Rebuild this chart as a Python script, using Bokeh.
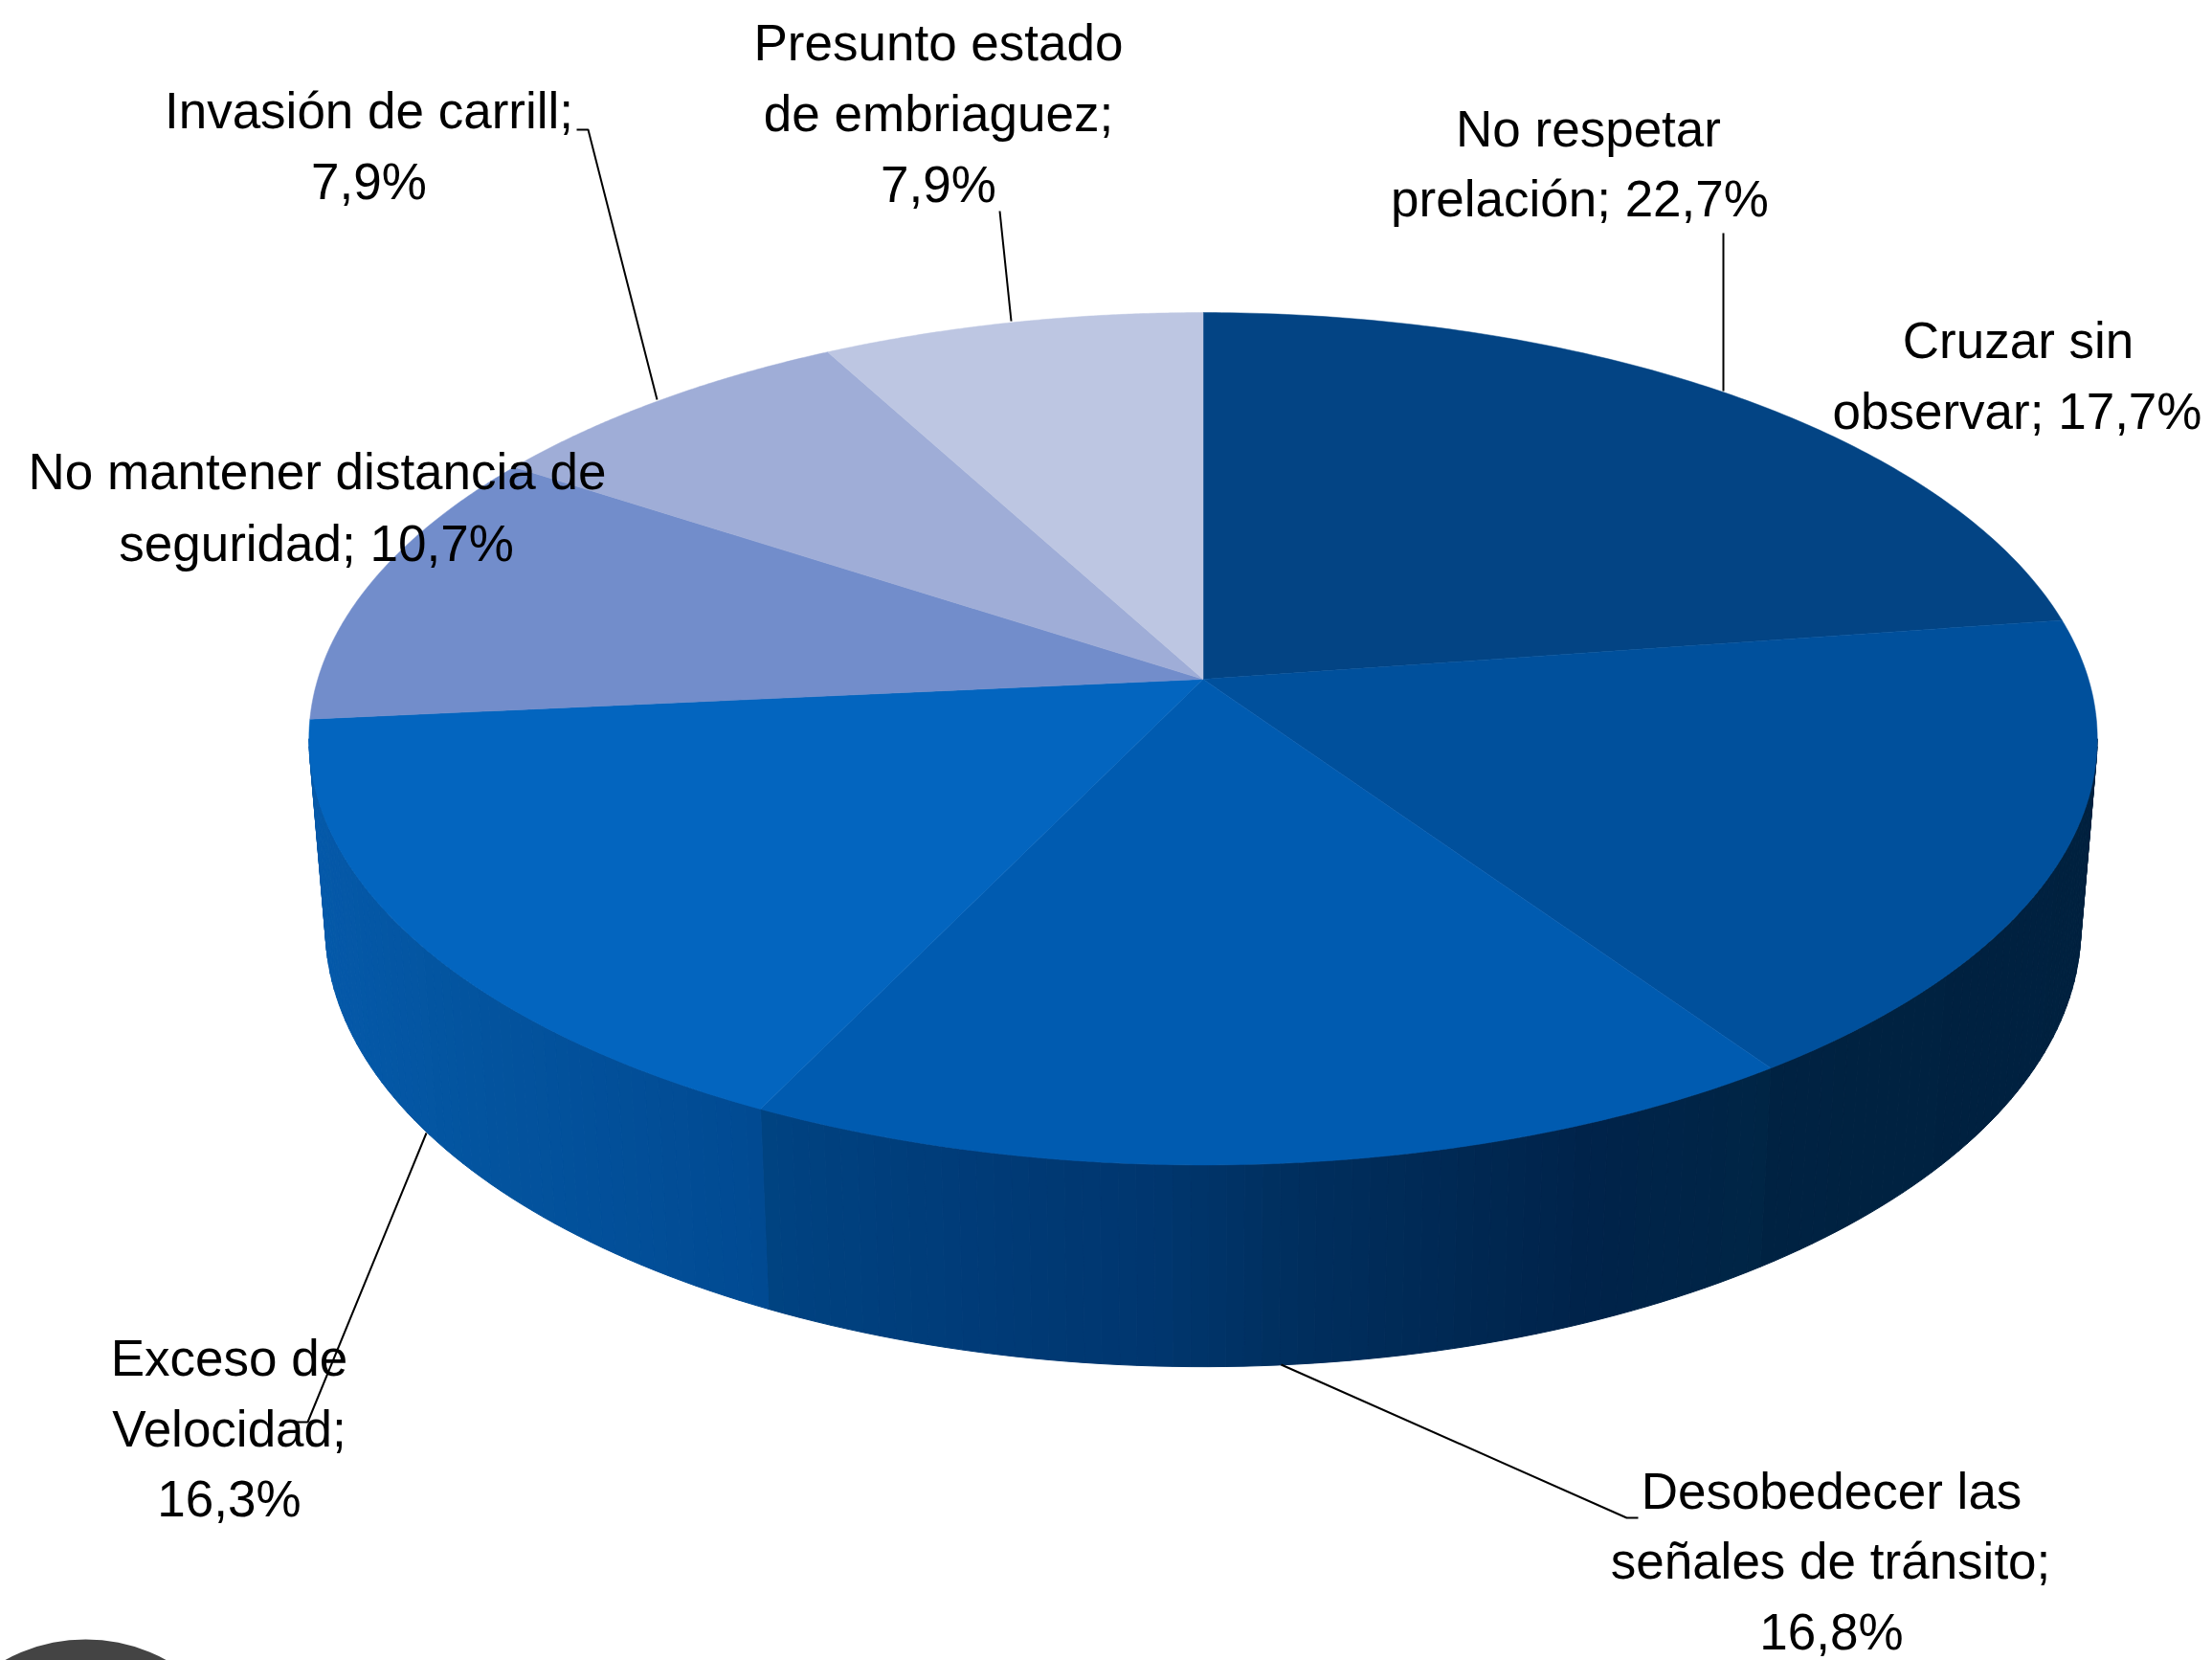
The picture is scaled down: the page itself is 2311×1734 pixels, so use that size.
from bokeh.plotting import figure
from bokeh.embed import file_html
from bokeh.resources import INLINE
from bokeh.models import Range1d
from bokeh.core.properties import value
import numpy as np

# ---- data ----
categories = ["No respetar prelación", "Cruzar sin observar", "Desobedecer las señales de tránsito",
              "Exceso de Velocidad", "No mantener distancia de seguridad", "Invasión de carrill",
              "Presunto estado de embriaguez"]
shares = [22.7, 17.7, 16.8, 16.3, 10.7, 7.9, 7.9]
top_colors = ["#034484", "#00509C", "#005BB0", "#0365BF", "#728DCB", "#9FADD7", "#BDC6E2"]

# ---- labels (one entry per printed line) ----
label_lines = [
    ("No respetar", 1659, 134), ("prelación; 22,7%", 1650, 207),
    ("Cruzar sin", 2108, 355), ("observar; 17,7%", 2107, 429),
    ("Desobedecer las", 1913, 1557), ("señales de tránsito;", 1912, 1630), ("16,8%", 1913, 1704),
    ("Exceso de", 239, 1418), ("Velocidad;", 239, 1492), ("16,3%", 239, 1565),
    ("No mantener distancia de", 331, 492), ("seguridad; 10,7%", 330, 567),
    ("Invasión de carrill;", 385, 115), ("7,9%", 385, 189),
    ("Presunto estado", 980, 44), ("de embriaguez;", 980, 118), ("7,9%", 980, 192),
]
leaders = [
    ([1800, 1800], [243, 408]),
    ([1044, 1056], [220, 335]),
    ([602, 614, 686], [135, 135, 417]),
    ([445, 321, 308], [1183, 1485, 1485]),
    ([1338, 1699, 1711], [1425, 1585, 1585]),
]

# side-wall shading: screen x -> colour, for the three visible walls
wall_stops = {
    1: ([1845, 2190], ["#002242", "#00213F"]),
    2: ([799, 993, 1213, 1338, 1654, 1845], ["#004382", "#003C79", "#00366E", "#002F5F", "#00234A", "#002545"]),
    3: ([343, 500, 650, 799], ["#0559A9", "#03549F", "#024F99", "#014A92"]),
}

# ---- projection of the tilted pie ----
CX, APEX_Y, K = 1256.5, 709.0, 0.1398
TOP_A, TOP_B = 925.0, 436.5
BOT_A, BOT_B, BOT_Y = 908.0, 450.0, 904.0


def project(theta, a, b, cy):
    w = 1 + K * np.cos(theta)
    return CX + a * np.sin(theta) / w, cy - b * np.cos(theta) / w


def hex_rgb(c):
    return np.array([int(c[i:i + 2], 16) for i in (1, 3, 5)], dtype=float)


def wall_color(i, x):
    xs, cs = wall_stops[i]
    rgb = np.array([hex_rgb(c) for c in cs])
    r = [int(round(np.interp(x, xs, rgb[:, j]))) for j in range(3)]
    return "#%02x%02x%02x" % tuple(r)


edges = np.radians(np.concatenate([[0], np.cumsum(shares)]) * 3.6)
T_MIN, T_MAX = np.arccos(-K), 2 * np.pi - np.arccos(-K)

p = figure(width=2311, height=1734, x_range=Range1d(0, 2311), y_range=Range1d(1734, 0),
           toolbar_location=None, output_backend="svg", min_border=0)
p.axis.visible = False
p.grid.visible = False
p.outline_line_color = None
p.background_fill_color = "white"

# walls
sx, sy, sc = [], [], []
for i in wall_stops:
    t0, t1 = max(edges[i], T_MIN), min(edges[i + 1], T_MAX)
    n = max(2, int(np.degrees(t1 - t0)))
    ts = np.linspace(t0, t1, n + 1)
    for a, b in zip(ts[:-1], ts[1:]):
        tt = np.array([a, b])
        x1, y1 = project(tt, TOP_A, TOP_B, APEX_Y)
        x2, y2 = project(tt, BOT_A, BOT_B, BOT_Y)
        sx.append(list(x1) + list(x2[::-1]))
        sy.append(list(y1) + list(y2[::-1]))
        sc.append(wall_color(i, (x2[0] + x2[1]) / 2))
p.patches(sx, sy, fill_color=sc, line_color=sc, line_width=1)

# top face
fx, fy = [], []
for i in range(len(shares)):
    ts = np.linspace(edges[i], edges[i + 1], 120)
    x, y = project(ts, TOP_A, TOP_B, APEX_Y)
    fx.append([CX] + list(x))
    fy.append([APEX_Y] + list(y))
p.patches(fx, fy, fill_color=top_colors, line_color=top_colors, line_width=0.5)

# leader lines
for lx, ly in leaders:
    p.line(lx, ly, line_color="#000000", line_width=2)

# partly visible logo in the corner
p.circle([89], [1887], radius=175, fill_color="#444444", line_color=None)

# labels
p.text([l[1] for l in label_lines], [l[2] for l in label_lines], text=[l[0] for l in label_lines],
       text_font=value("Liberation Sans"), text_font_size="53px", text_color="#000000",
       text_align="center", text_baseline="alphabetic")

open("out.html", "w").write(file_html(p, INLINE))
